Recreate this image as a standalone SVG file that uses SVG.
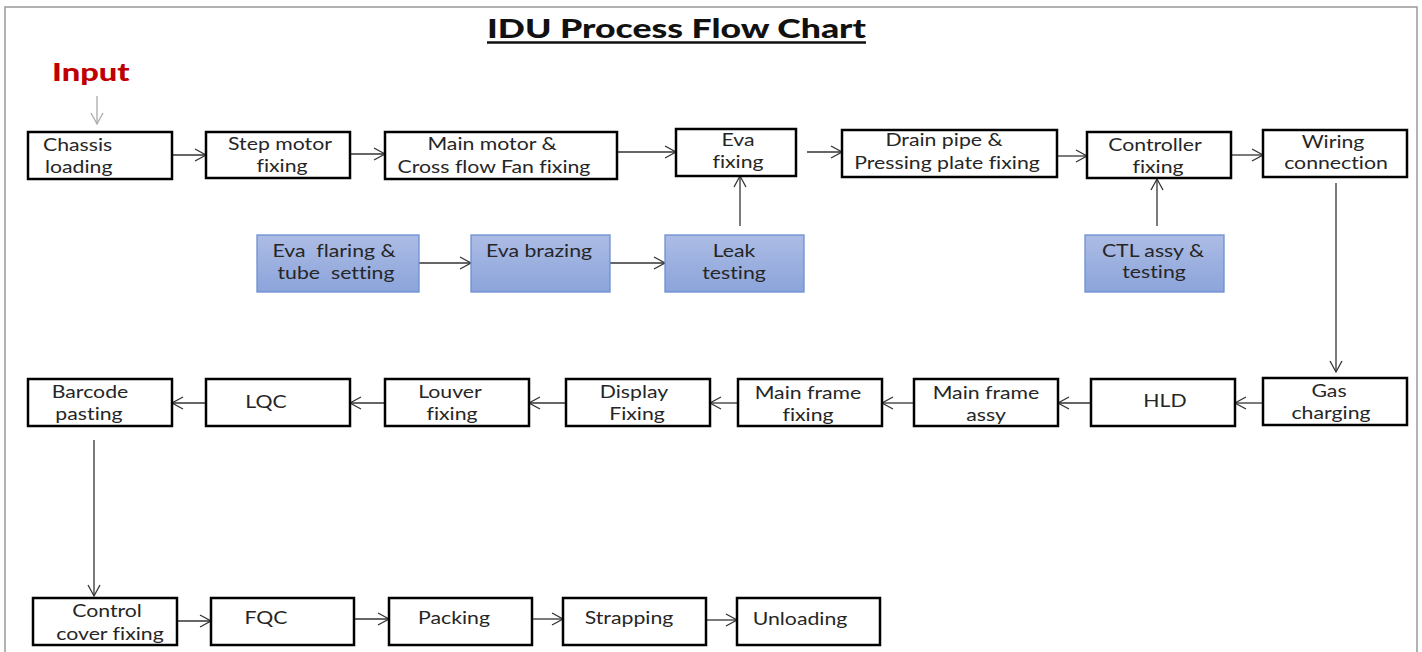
<svg xmlns="http://www.w3.org/2000/svg" width="1422" height="652" viewBox="0 0 1422 652">
<style>
.box{fill:#fff;stroke:#000;stroke-width:2.5}
.blue{fill:url(#bg);stroke:#6d8fd3;stroke-width:1.3}
.t{font-family:Lato,"Liberation Sans",sans-serif;font-size:17px;fill:#262626;text-anchor:middle;white-space:pre;font-variant-ligatures:none}
.s{text-anchor:start}
.c{fill:none;stroke:#333;stroke-width:1.3}
</style>
<defs>
<linearGradient id="bg" x1="0" y1="0" x2="0" y2="1">
<stop offset="0" stop-color="#adbce5"/>
<stop offset="1" stop-color="#8ba4da"/>
</linearGradient>
<marker id="a" markerUnits="userSpaceOnUse" markerWidth="14" markerHeight="14" refX="12" refY="7" orient="auto">
<path d="M1,1 L12,7 L1,13" fill="none" stroke="#333" stroke-width="1.3"/>
</marker>
<marker id="ag" markerUnits="userSpaceOnUse" markerWidth="14" markerHeight="14" refX="12" refY="7" orient="auto">
<path d="M1,1 L12,7 L1,13" fill="none" stroke="#aaa" stroke-width="1.3"/>
</marker>
</defs>
<rect x="5" y="7" width="1412" height="660" fill="#fff" stroke="#999" stroke-width="1.5"/>
<g id="title">
<text transform="translate(676.5,38) scale(1.37,1)" style="font-family:Lato,'Liberation Sans',sans-serif;font-size:26px;font-weight:900;fill:#111;text-anchor:middle">IDU Process Flow Chart</text>
<line x1="487" y1="42.5" x2="866" y2="42.5" stroke="#111" stroke-width="2.5"/>
</g>
<g id="input">
<text transform="translate(52,81) scale(1.36,1)" style="font-family:Lato,'Liberation Sans',sans-serif;font-size:24px;font-weight:900;fill:#c00000">Input</text>
</g>
<g id="connectors">
<line class="c" x1="97" y1="96" x2="97" y2="124" style="stroke:#aaa" marker-end="url(#ag)"/>
<line class="c" x1="172" y1="155" x2="206" y2="155" marker-end="url(#a)"/>
<line class="c" x1="350" y1="154" x2="385" y2="154" marker-end="url(#a)"/>
<line class="c" x1="617" y1="152" x2="676" y2="152" marker-end="url(#a)"/>
<line class="c" x1="807" y1="152" x2="842" y2="152" marker-end="url(#a)"/>
<line class="c" x1="1057" y1="156" x2="1087" y2="156" marker-end="url(#a)"/>
<line class="c" x1="1231" y1="155" x2="1263" y2="155" marker-end="url(#a)"/>
<line class="c" x1="740" y1="226" x2="740" y2="176" marker-end="url(#a)"/>
<line class="c" x1="1157" y1="226" x2="1157" y2="179" marker-end="url(#a)"/>
<line class="c" x1="419" y1="263" x2="471" y2="263" marker-end="url(#a)"/>
<line class="c" x1="610" y1="263" x2="665" y2="263" marker-end="url(#a)"/>
<line class="c" x1="1336" y1="183" x2="1336" y2="372" marker-end="url(#a)"/>
<line class="c" x1="1263" y1="403" x2="1235" y2="403" marker-end="url(#a)"/>
<line class="c" x1="1091" y1="403" x2="1058" y2="403" marker-end="url(#a)"/>
<line class="c" x1="914" y1="403" x2="882" y2="403" marker-end="url(#a)"/>
<line class="c" x1="738" y1="403" x2="710" y2="403" marker-end="url(#a)"/>
<line class="c" x1="566" y1="403" x2="529" y2="403" marker-end="url(#a)"/>
<line class="c" x1="385" y1="403" x2="350" y2="403" marker-end="url(#a)"/>
<line class="c" x1="206" y1="403" x2="172" y2="403" marker-end="url(#a)"/>
<line class="c" x1="94" y1="440" x2="94" y2="596" marker-end="url(#a)"/>
<line class="c" x1="177" y1="621" x2="211" y2="621" marker-end="url(#a)"/>
<line class="c" x1="354" y1="619" x2="389" y2="619" marker-end="url(#a)"/>
<line class="c" x1="532" y1="619" x2="563" y2="619" marker-end="url(#a)"/>
<line class="c" x1="706" y1="620" x2="737" y2="620" marker-end="url(#a)"/>
</g>
<g id="chassis"><rect class="box" x="28" y="132" width="144" height="47"/>
<text class="t s" transform="translate(43,151) scale(1.25,1)">Chassis</text>
<text class="t s" transform="translate(45,173) scale(1.25,1)">loading</text></g>
<g id="step"><rect class="box" x="206" y="132" width="144" height="46"/>
<text class="t" transform="translate(280,150) scale(1.25,1)">Step motor</text>
<text class="t" transform="translate(282,172) scale(1.25,1)">fixing</text></g>
<g id="mainmotor"><rect class="box" x="385" y="132" width="232" height="47"/>
<text class="t" transform="translate(492,150) scale(1.25,1)">Main motor &amp;</text>
<text class="t" transform="translate(494,173) scale(1.25,1)">Cross flow Fan fixing</text></g>
<g id="eva"><rect class="box" x="676" y="129" width="120" height="47"/>
<text class="t" transform="translate(738,146) scale(1.25,1)">Eva</text>
<text class="t" transform="translate(738,168) scale(1.25,1)">fixing</text></g>
<g id="drain"><rect class="box" x="842" y="130" width="215" height="47"/>
<text class="t" transform="translate(944,146) scale(1.25,1)">Drain pipe &amp;</text>
<text class="t" transform="translate(947,169) scale(1.25,1)">Pressing plate fixing</text></g>
<g id="controller"><rect class="box" x="1087" y="132" width="144" height="46"/>
<text class="t" transform="translate(1155,151) scale(1.25,1)">Controller</text>
<text class="t" transform="translate(1158,173) scale(1.25,1)">fixing</text></g>
<g id="wiring"><rect class="box" x="1263" y="130" width="144" height="47"/>
<text class="t" transform="translate(1333,148) scale(1.25,1)">Wiring</text>
<text class="t" transform="translate(1336,169) scale(1.25,1)">connection</text></g>
<g id="flaring"><rect class="blue" x="257" y="235" width="162" height="57"/>
<text class="t" transform="translate(334,257) scale(1.25,1)">Eva  flaring &amp;</text>
<text class="t" transform="translate(336,279) scale(1.25,1)">tube  setting</text></g>
<g id="brazing"><rect class="blue" x="471" y="235" width="139" height="57"/>
<text class="t" transform="translate(539,257) scale(1.25,1)">Eva brazing</text></g>
<g id="leak"><rect class="blue" x="665" y="235" width="139" height="57"/>
<text class="t" transform="translate(734,257) scale(1.25,1)">Leak</text>
<text class="t" transform="translate(734,279) scale(1.25,1)">testing</text></g>
<g id="ctl"><rect class="blue" x="1085" y="235" width="139" height="57"/>
<text class="t" transform="translate(1153,257) scale(1.25,1)">CTL assy &amp;</text>
<text class="t" transform="translate(1154,278) scale(1.25,1)">testing</text></g>
<g id="barcode"><rect class="box" x="28" y="379" width="144" height="47"/>
<text class="t" transform="translate(90,398) scale(1.25,1)">Barcode</text>
<text class="t" transform="translate(89,420) scale(1.25,1)">pasting</text></g>
<g id="lqc"><rect class="box" x="206" y="379" width="144" height="47"/>
<text class="t" transform="translate(266,408) scale(1.25,1)">LQC</text></g>
<g id="louver"><rect class="box" x="385" y="379" width="144" height="47"/>
<text class="t" transform="translate(450,398) scale(1.25,1)">Louver</text>
<text class="t" transform="translate(452,420) scale(1.25,1)">fixing</text></g>
<g id="display"><rect class="box" x="566" y="379" width="144" height="47"/>
<text class="t" transform="translate(634,398) scale(1.25,1)">Display</text>
<text class="t" transform="translate(637,420) scale(1.25,1)">Fixing</text></g>
<g id="mfixing"><rect class="box" x="738" y="379" width="144" height="47"/>
<text class="t" transform="translate(808,399) scale(1.25,1)">Main frame</text>
<text class="t" transform="translate(808,421) scale(1.25,1)">fixing</text></g>
<g id="massy"><rect class="box" x="914" y="379" width="144" height="47"/>
<text class="t" transform="translate(986,399) scale(1.25,1)">Main frame</text>
<text class="t" transform="translate(986,421) scale(1.25,1)">assy</text></g>
<g id="hld"><rect class="box" x="1091" y="379" width="144" height="47"/>
<text class="t" transform="translate(1165,407) scale(1.25,1)">HLD</text></g>
<g id="gas"><rect class="box" x="1263" y="378" width="144" height="47"/>
<text class="t" transform="translate(1329,397) scale(1.25,1)">Gas</text>
<text class="t" transform="translate(1331,419) scale(1.25,1)">charging</text></g>
<g id="control"><rect class="box" x="33" y="598" width="144" height="47"/>
<text class="t" transform="translate(107,617) scale(1.25,1)">Control</text>
<text class="t" transform="translate(110,640) scale(1.25,1)">cover fixing</text></g>
<g id="fqc"><rect class="box" x="211" y="598" width="143" height="47"/>
<text class="t" transform="translate(266,624) scale(1.25,1)">FQC</text></g>
<g id="packing"><rect class="box" x="389" y="598" width="143" height="47"/>
<text class="t" transform="translate(454,624) scale(1.25,1)">Packing</text></g>
<g id="strapping"><rect class="box" x="563" y="598" width="143" height="47"/>
<text class="t" transform="translate(629,624) scale(1.25,1)">Strapping</text></g>
<g id="unloading"><rect class="box" x="737" y="598" width="143" height="47"/>
<text class="t" transform="translate(800,625) scale(1.25,1)">Unloading</text></g>
</svg>
